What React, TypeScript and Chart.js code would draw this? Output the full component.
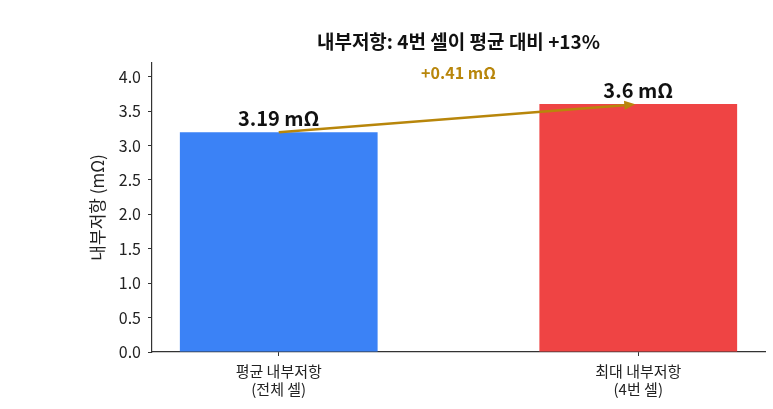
import React, { useEffect, useRef } from "react";
import { Chart, registerables } from "chart.js";

Chart.register(...registerables);

const categories: string[][] = [
  ["평균 내부저항", "(전체 셀)"],
  ["최대 내부저항", "(4번 셀)"],
];
const values: number[] = [3.19, 3.6];
const barColors: string[] = ["#3b82f6", "#ef4444"];
const valueLabels: string[] = ["3.19 mΩ", "3.6 mΩ"];
const diffLabel = "+0.41 mΩ";
const titleText = "내부저항: 4번 셀이 평균 대비 +13%";
const yAxisTitle = "내부저항 (mΩ)";
const yMin = 0;
const yMax = 4.2;
const yStep = 0.5;

const FONT = "'Noto Sans CJK KR', 'Noto Sans', sans-serif";
const ACCENT = "#b8860b";

const annotationPlugin = {
  id: "annotations",
  afterDatasetsDraw(chart: any) {
    const { ctx, scales } = chart;
    const xs = scales.x;
    const ys = scales.y;
    ctx.save();
    // value labels
    ctx.font = `bold 20px ${FONT}`;
    ctx.fillStyle = "#111";
    ctx.textAlign = "center";
    ctx.textBaseline = "alphabetic";
    values.forEach((v, i) => {
      ctx.fillText(valueLabels[i], xs.getPixelForValue(i), ys.getPixelForValue(v + 0.095));
    });
    // arrow
    const x0 = xs.getPixelForValue(0);
    const y0 = ys.getPixelForValue(values[0]);
    const x1r = xs.getPixelForValue(1);
    const y1r = ys.getPixelForValue(values[1]);
    const ang = Math.atan2(y1r - y0, x1r - x0);
    const x1 = x1r - Math.cos(ang) * 3;
    const y1 = y1r - Math.sin(ang) * 3;
    const headLen = 11;
    const headHalf = 4.5;
    const bx = x1 - Math.cos(ang) * headLen;
    const by = y1 - Math.sin(ang) * headLen;
    ctx.strokeStyle = ACCENT;
    ctx.fillStyle = ACCENT;
    ctx.lineWidth = 2.5;
    ctx.beginPath();
    ctx.moveTo(x0, y0);
    ctx.lineTo(bx, by);
    ctx.stroke();
    ctx.beginPath();
    ctx.moveTo(x1, y1);
    ctx.lineTo(bx - Math.sin(ang) * headHalf, by + Math.cos(ang) * headHalf);
    ctx.lineTo(bx + Math.sin(ang) * headHalf, by - Math.cos(ang) * headHalf);
    ctx.closePath();
    ctx.fill();
    // diff label
    ctx.font = `bold 16px ${FONT}`;
    ctx.fillStyle = ACCENT;
    ctx.textBaseline = "middle";
    ctx.fillText(diffLabel, xs.getPixelForValue(0.5), ys.getPixelForValue(Math.max(...values) + 0.45));
    ctx.restore();
  },
};

export default function App() {
  const ref = useRef<HTMLCanvasElement | null>(null);
  useEffect(() => {
    document.body.style.margin = "0";
    const chart = new Chart(ref.current as HTMLCanvasElement, {
      type: "bar",
      data: {
        datasets: [
          {
            data: values.map((v, i) => ({ x: i, y: v })),
            backgroundColor: barColors,
            borderWidth: 0,
            barPercentage: 0.55,
            categoryPercentage: 1,
          },
        ],
      },
      options: {
        animation: false,
        responsive: true,
        maintainAspectRatio: false,
        layout: { padding: { left: 0, right: 8, top: 0, bottom: 0 } },
        plugins: {
          legend: { display: false },
          tooltip: { enabled: false },
          title: {
            display: true,
            text: titleText,
            fullSize: false,
            color: "#111",
            font: { family: FONT, size: 19, weight: "bold" },
            padding: { top: 30, bottom: 10 },
          },
        },
        scales: {
          x: {
            type: "linear",
            offset: false,
            min: -0.3525,
            max: 1.3525,
            afterBuildTicks: (scale: any) => {
              scale.ticks = categories.map((_, i) => ({ value: i }));
            },
            afterFit: (scale: any) => {
              scale.height = 57;
            },
            ticks: {
              autoSkip: false,
              maxRotation: 0,
              padding: 6,
              color: "#222",
              font: { family: FONT, size: 15, lineHeight: 1.2 },
              callback: (v: any) => categories[v] ?? "",
            },
            grid: { offset: false, drawOnChartArea: false, tickLength: 4, color: "#333" },
            border: { display: true, color: "#333", width: 1.2 },
          },
          y: {
            min: yMin,
            max: yMax,
            afterBuildTicks: (scale: any) => {
              const t = [];
              for (let v = yMin; v <= 4.0 + 1e-9; v += yStep) t.push({ value: Math.round(v * 10) / 10 });
              scale.ticks = t;
            },
            afterFit: (scale: any) => {
              scale.width = 152;
            },
            ticks: {
              padding: 7,
              color: "#222",
              font: { family: FONT, size: 16 },
              callback: (v: any) => Number(v).toFixed(1),
            },
            title: {
              display: true,
              text: yAxisTitle,
              color: "#222",
              font: { family: FONT, size: 17 },
              padding: { top: 87, bottom: 0 },
            },
            grid: { drawOnChartArea: false, tickLength: 4, color: "#333" },
            border: { display: true, color: "#333", width: 1.2 },
          },
        },
      },
      plugins: [annotationPlugin],
    } as any);
    return () => chart.destroy();
  }, []);
  return (
    <div style={{ position: "absolute", left: 0, top: 0, width: 773, height: 409, background: "#fff" }}>
      <canvas ref={ref} />
    </div>
  );
}
